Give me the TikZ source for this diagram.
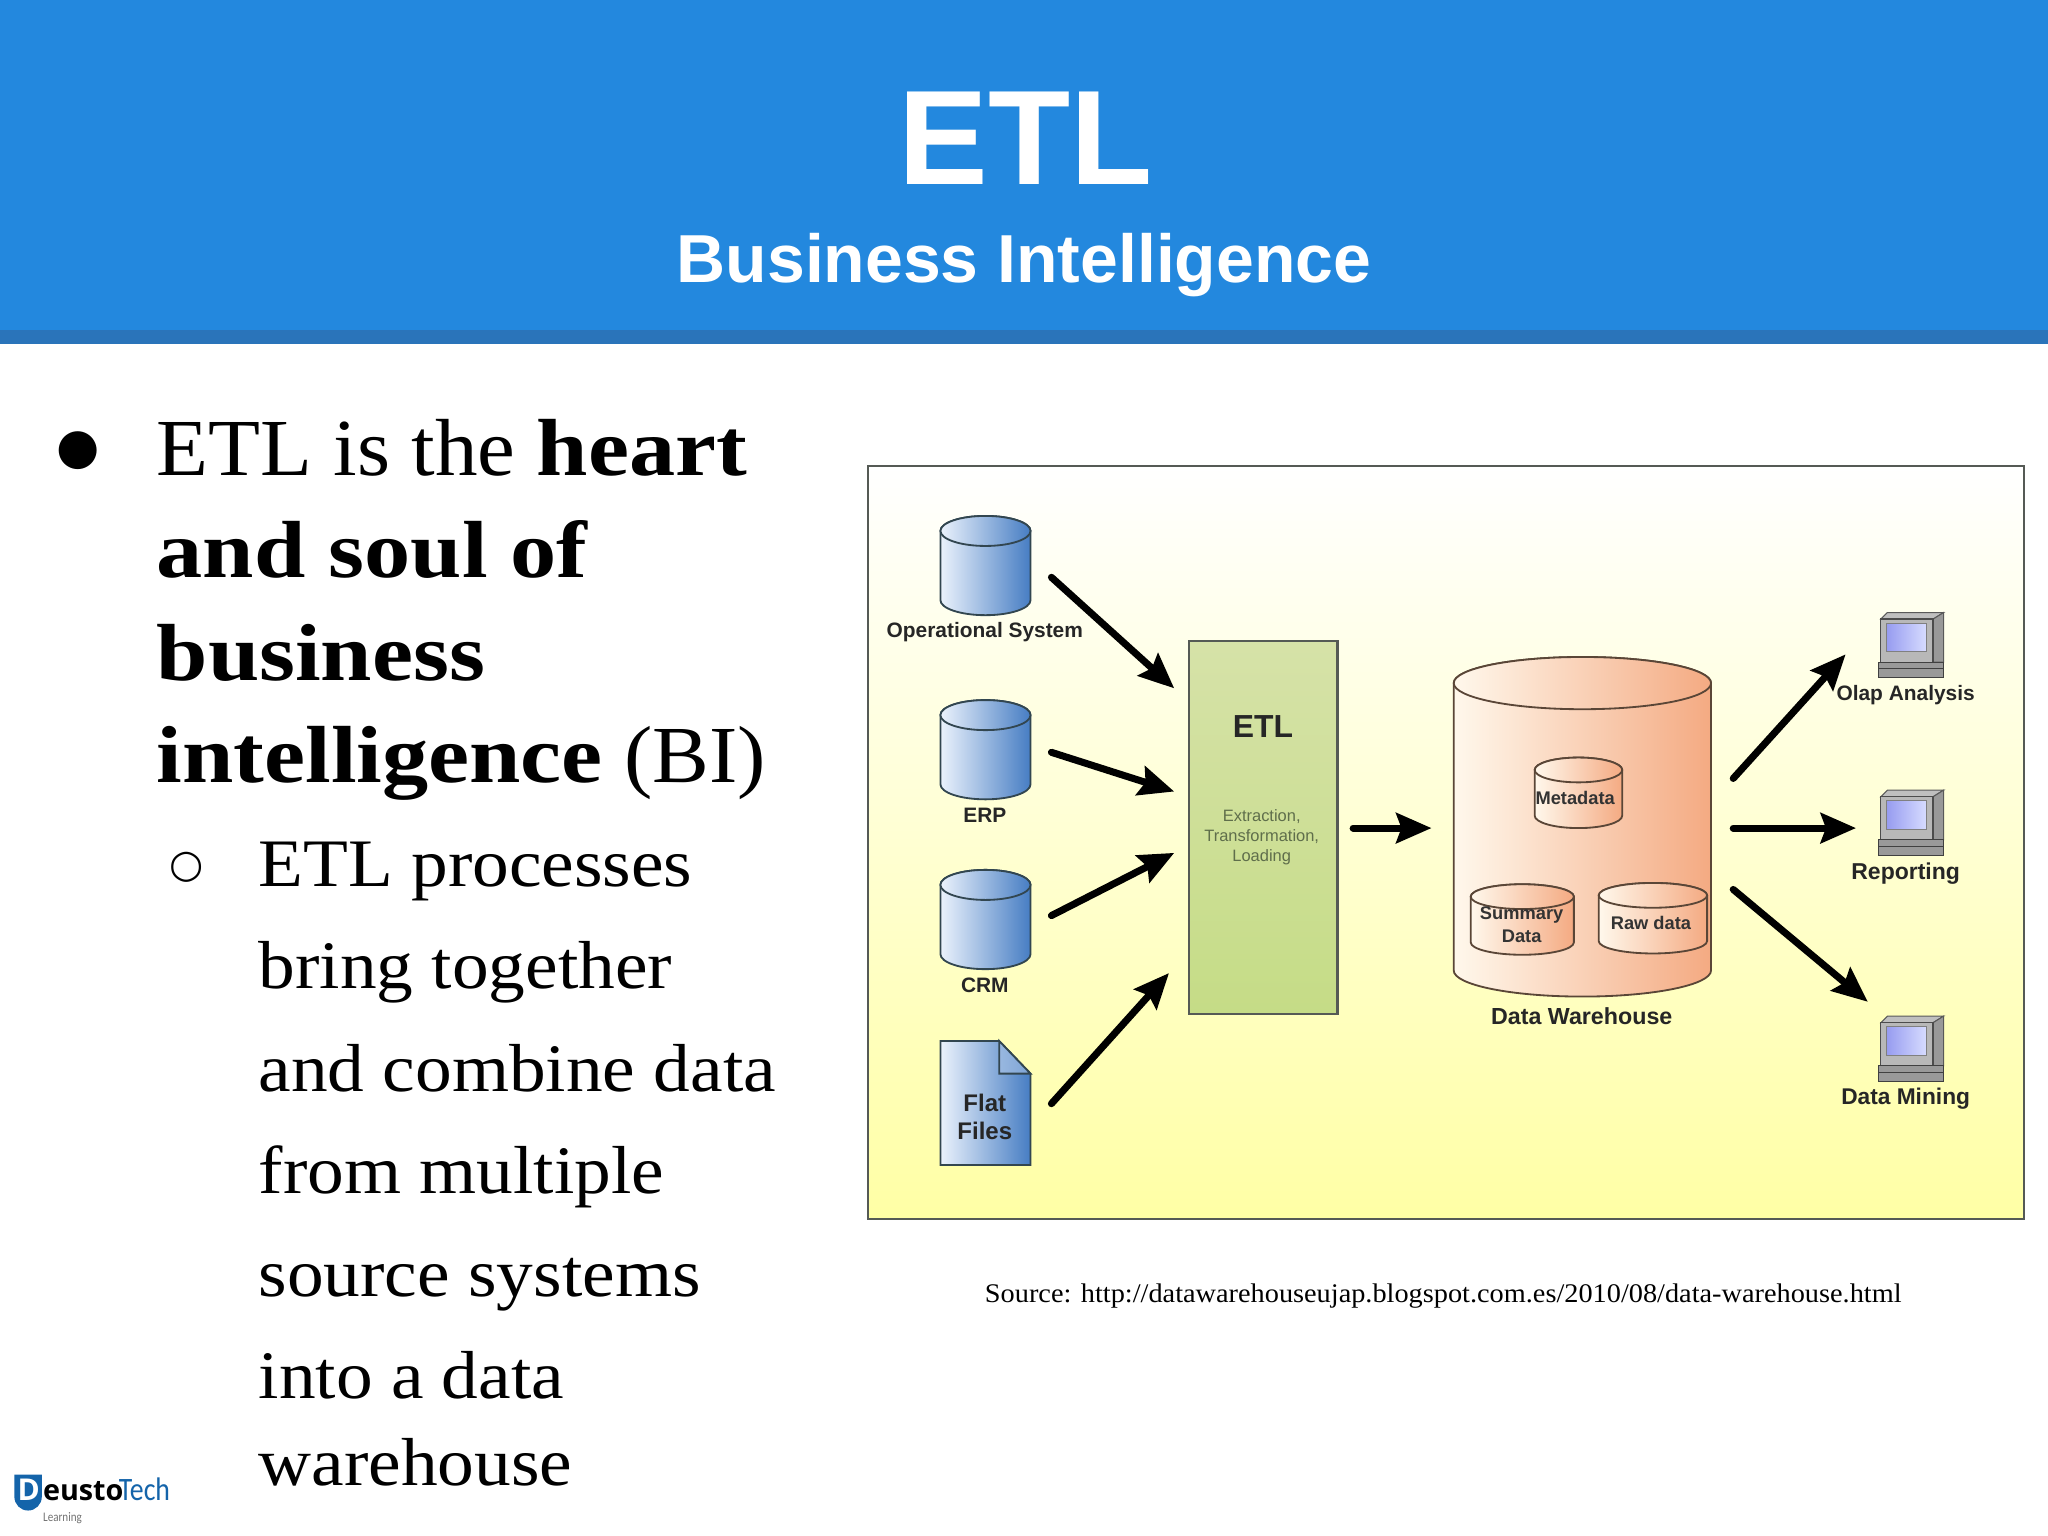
\documentclass[tikz,border=0pt]{standalone}
\usepackage{fontspec}
\usetikzlibrary{arrows.meta}
\setmainfont{Liberation Serif}
\newfontfamily\mainb[FakeStretch=1.05,BoldFeatures={FakeStretch=1.14}]{Liberation Serif}
\newfontfamily\subb[FakeStretch=1.08]{Liberation Serif}
\newfontfamily\srcf[FakeStretch=1.052]{Liberation Serif}
\newfontfamily\hsans{Liberation Sans}
\newfontfamily\dvs{DejaVu Sans}
\newfontfamily\logoa{Open Sans}
\newfontfamily\logob[FakeStretch=.85]{Carlito}
\definecolor{hdr}{RGB}{35,136,222}
\definecolor{hdrdark}{RGB}{42,116,186}
\definecolor{frameedge}{RGB}{85,90,85}
\definecolor{yel}{RGB}{255,255,165}
\definecolor{bluel}{RGB}{235,242,252}
\definecolor{blued}{RGB}{70,125,195}
\definecolor{orl}{RGB}{255,248,236}
\definecolor{ord}{RGB}{244,170,130}
\definecolor{edgeb}{RGB}{50,70,80}
\definecolor{edgeo}{RGB}{90,70,55}
\definecolor{logoblue}{RGB}{20,100,170}
\definecolor{etlt}{RGB}{214,226,168}
\definecolor{etlb}{RGB}{197,220,134}
\definecolor{etlgrey}{RGB}{95,110,75}
\definecolor{scra}{RGB}{150,155,240}
\definecolor{scrb}{RGB}{215,220,255}
\tikzset{
 every node/.style={inner sep=0pt,outer sep=0pt},
 bigarrow/.style={line width=2.7pt,line cap=round,-{Stealth[length=13.5pt,width=11.5pt,inset=2pt]}},
 body/.style={anchor=base west,font=\mainb\fontsize{31}{31}\selectfont},
 subbody/.style={anchor=base west,font=\subb\fontsize{26}{26}\selectfont},
 dlabel/.style={anchor=center,align=center,text=black!85,font=\hsans\bfseries\fontsize{8}{9}\selectfont},
 slabel/.style={anchor=center,align=center,text=black!80,font=\hsans\bfseries\fontsize{7}{8.6}\selectfont},
}
% name, cx, top, bottom, rx, ry, left colour, right colour, edge colour
\newcommand\cyl[9]{%
 \pgfmathsetmacro\cyL{#2-#5}\pgfmathsetmacro\cyR{#2+#5}%
 \pgfmathsetmacro\cyT{#3+#6}\pgfmathsetmacro\cyB{#4-#6}%
 \pgfmathsetmacro\cyM{(#3+#4)/2}%
 \shade[left color=#7,right color=#8,draw=#9,line width=.7pt]
  (\cyL,\cyT) -- (\cyL,\cyB) arc[start angle=180,end angle=0,x radius=#5,y radius=#6]
  -- (\cyR,\cyT) arc[start angle=0,end angle=-180,x radius=#5,y radius=#6] -- cycle;
 \shade[left color=#7,right color=#8,draw=#9,line width=.7pt]
  (#2,\cyT) ellipse[x radius=#5,y radius=#6];
 \pgfmathsetmacro\cyW{#5}\pgfmathsetmacro\cyH{(#4-#3)/2}%
 \node[minimum width=\cyW pt,minimum height=\cyH pt] (#1) at (#2,\cyM) {};
}
% name, left, top (50 x 50 icon)
\newcommand\pcicon[3]{%
 \begin{scope}[shift={(#2,#3)}]
  \fill[black!25,draw=black!65,line width=.4pt] (2,5) -- (7,0) -- (50,0) -- (42,5) -- cycle;
  \fill[black!40,draw=black!65,line width=.4pt] (42,5) -- (50,0) -- (50,38) -- (42,38) -- cycle;
  \fill[black!28,draw=black!70,line width=.5pt] (2,5) rectangle (42,38);
  \shade[left color=scra,right color=scrb,draw=black!50,line width=.3pt] (6,8) rectangle (37,30);
  \fill[black!40,draw=black!75,line width=.4pt] (0,38) rectangle (50,50);
  \draw[black!75,line width=.5pt] (0,43) -- (50,43);
  \node[minimum width=25pt,minimum height=25pt] (#1) at (25,25) {};
 \end{scope}
}
\begin{document}
\begin{tikzpicture}[x=.5pt,y=-.5pt]
\useasboundingbox (0,0) rectangle (1568,1176);
\fill[white] (0,0) rectangle (1568,1176);
% header
\fill[hdr] (0,0) rectangle (1568,254);
\fill[hdrdark] (0,253) rectangle (1568,263);
\node[anchor=base,text=white,font=\hsans\bfseries\fontsize{51.5}{51.5}\selectfont] (title) at (785,141) {ETL};
\node[anchor=base,text=white,font=\hsans\bfseries\fontsize{26}{26}\selectfont] (subtitle) at (784,216) {Business Intelligence};
% body text
\node[anchor=center,font=\dvs\fontsize{19}{19}\selectfont] (b1) at (60,345) {●};
\node[anchor=center,font=\dvs\fontsize{15}{15}\selectfont] (b2) at (143,664) {○};
\node[body] (t1) at (120,364) {ETL is the {\bfseries heart}};
\node[body] (t2) at (120,442) {\bfseries and soul of};
\node[body] (t3) at (120,521) {\bfseries business};
\node[body] (t4) at (120,599) {{\bfseries intelligence} (BI)};
\node[subbody] (s1) at (198,679) {ETL processes};
\node[subbody] (s2) at (198,757) {bring together};
\node[subbody] (s3) at (198,836) {and combine data};
\node[subbody] (s4) at (198,914) {from multiple};
\node[subbody] (s5) at (198,993) {source systems};
\node[subbody] (s6) at (198,1071) {into a data};
\node[subbody] (s7) at (198,1137) {warehouse};
\node[anchor=base,font=\srcf\fontsize{10.3}{12}\selectfont] (src) at (1105,997) {Source: http://datawarehouseujap.blogspot.com.es/2010/08/data-warehouse.html};
% diagram frame
\shade[top color=white,bottom color=yel,draw=frameedge,line width=.8pt] (664.5,357) rectangle (1549.5,933.5);
% sources
\cyl{os}{754.5}{395}{471}{34.5}{11.5}{bluel}{blued}{edgeb}
\cyl{erp}{754.5}{536}{612}{34.5}{11.5}{bluel}{blued}{edgeb}
\cyl{crm}{754.5}{666}{742}{34.5}{11.5}{bluel}{blued}{edgeb}
\shade[left color=bluel,right color=blued,draw=edgeb,line width=.7pt] (720,797) -- (765,797) -- (789,822) -- (789,892) -- (720,892) -- cycle;
\shade[left color=bluel!50!blued,right color=blued!70!white,draw=edgeb,line width=.7pt] (765,797) -- (789,822) -- (765,822) -- cycle;
\node[minimum width=34.5pt,minimum height=47.5pt] (ff) at (754.5,844.5) {};
\node[dlabel] (l1) at (754,484) {Operational System};
\node[dlabel] (l2) at (754,624) {ERP};
\node[dlabel] (l3) at (754,754) {CRM};
\node[dlabel,font=\hsans\bfseries\fontsize{9.2}{10.8}\selectfont] (l4) at (754,855) {Flat\\Files};
% ETL
\shade[top color=etlt,bottom color=etlb,draw=frameedge,line width=.8pt] (910,491) rectangle (1024,776);
\node[minimum width=57pt,minimum height=142.5pt] (etl) at (967,633.5) {};
\node[anchor=center,text=black!85,font=\hsans\bfseries\fontsize{12.2}{14}\selectfont] (etlt) at (967,556) {ETL};
\node[anchor=center,align=center,text=etlgrey,font=\hsans\fontsize{6.3}{7.5}\selectfont] (etld) at (966,641) {Extraction,\\Transformation,\\Loading};
% warehouse
\cyl{dw}{1211.5}{503}{763}{98.5}{20}{orl}{ord}{edgeo}
\cyl{meta}{1208.5}{580}{634}{33.5}{9.5}{orl}{ord}{edgeo}
\cyl{summ}{1165.5}{677}{731}{39.5}{9.5}{orl}{ord}{edgeo}
\cyl{raw}{1265.5}{676}{730}{41.5}{9.5}{orl}{ord}{edgeo}
\node[slabel] (l5) at (1206,611) {Metadata};
\node[slabel] (l6) at (1165,708) {Summary\\Data};
\node[slabel] (l7) at (1264,707) {Raw data};
\node[dlabel,font=\hsans\bfseries\fontsize{8.9}{10}\selectfont] (l8) at (1211,778) {Data Warehouse};
% consumers
\pcicon{olap}{1438}{469}
\pcicon{rep}{1438}{605}
\pcicon{dm}{1438}{778}
\node[dlabel] (l9) at (1459,532) {Olap Analysis};
\node[dlabel,font=\hsans\bfseries\fontsize{8.8}{10}\selectfont] (l10) at (1459,669) {Reporting};
\node[dlabel,font=\hsans\bfseries\fontsize{8.7}{10}\selectfont] (l11) at (1459,841) {Data Mining};
% arrow ends
\coordinate (a1s) at (805,442); \coordinate (a1e) at (899,527);
\coordinate (a2s) at (805,576); \coordinate (a2e) at (899,606);
\coordinate (a3s) at (805,701); \coordinate (a3e) at (899,653);
\coordinate (a4s) at (805,845); \coordinate (a4e) at (895,745);
\coordinate (a5s) at (1036,634); \coordinate (a5e) at (1096,634);
\coordinate (a6s) at (1327,596); \coordinate (a6e) at (1413,501);
\coordinate (a7s) at (1327,634); \coordinate (a7e) at (1421,634);
\coordinate (a8s) at (1327,681); \coordinate (a8e) at (1430,767);
\foreach \i in {1,...,8} {\draw[bigarrow] (a\i s) -- (a\i e);}
% logo
\fill[logoblue] (11,1129) -- (32,1129) -- (32,1146) arc[start angle=0,end angle=180,radius=10.5] -- cycle;
\node[anchor=base,text=white,font=\logoa\bfseries\fontsize{11.5}{12}\selectfont] (logoD) at (22,1149) {D};
\node[anchor=base west,font=\logoa\bfseries\fontsize{11}{12}\selectfont] (logoa) at (33,1149) {eusto};
\node[anchor=base west,text=logoblue,font=\logob\fontsize{12.5}{14}\selectfont] (logob) at (91,1149) {Tech};
\node[anchor=base west,text=black!55,font=\logob\fontsize{5}{5}\selectfont] (logoc) at (33,1165) {Learning};
\end{tikzpicture}
\end{document}
